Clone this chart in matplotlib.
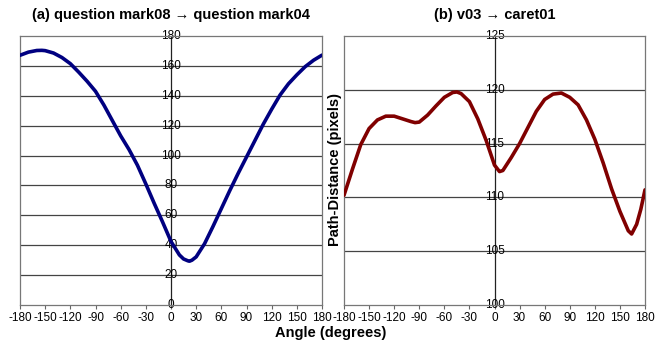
import matplotlib
matplotlib.use("Agg")
import matplotlib.pyplot as plt

plt.rcParams['font.family'] = ['Liberation Sans', 'DejaVu Sans']
plt.rcParams['axes.unicode_minus'] = False

# panel (a): question mark08 -> question mark04
angle_a = [-180, -170, -160, -154, -150, -140, -130, -120, -110, -100, -90, -80, -70,
           -60, -50, -40, -30, -20, -10, 0, 10, 15, 20, 22, 25, 30, 40, 50, 60, 70, 80,
           90, 100, 110, 120, 130, 140, 150, 160, 170, 180]
dist_a = [167.1, 169.2, 170.3, 170.4, 170.2, 168.6, 165.6, 161.5, 155.8, 149.7, 143.0,
          133.8, 123.5, 113.2, 104.0, 93.5, 81.0, 68.0, 55.5, 42.5, 33.5, 30.8, 29.6,
          29.3, 30.0, 32.2, 41.0, 52.5, 64.5, 76.5, 88.0, 99.0, 110.0, 121.0, 131.0,
          140.5, 148.0, 154.0, 159.5, 163.8, 167.2]

# panel (b): v03 -> caret01
angle_b = [-180, -170, -160, -150, -140, -130, -120, -110, -100, -95, -90, -80, -70,
           -60, -50, -45, -40, -30, -20, -10, 0, 6, 10, 20, 30, 40, 50, 60, 70, 80, 90,
           100, 110, 120, 130, 140, 150, 160, 164, 170, 175, 180]
dist_b = [110.2, 112.6, 114.9, 116.4, 117.2, 117.55, 117.55, 117.3, 117.05, 116.95,
          117.0, 117.65, 118.5, 119.3, 119.75, 119.8, 119.65, 118.9, 117.3, 115.3,
          113.0, 112.4, 112.5, 113.7, 115.0, 116.5, 118.0, 119.1, 119.6, 119.7, 119.3,
          118.6, 117.2, 115.4, 113.2, 110.8, 108.7, 106.9, 106.6, 107.5, 108.9, 110.7]

x_ticks = list(range(-180, 181, 30))
y_ticks_a = list(range(0, 181, 20))
y_ticks_b = list(range(100, 126, 5))

W, H = 662, 341
fig = plt.figure(figsize=(W / 100, H / 100), dpi=100)


def panel(rect, xs, ys, yticks, colour, title):
    ax = fig.add_axes(rect)
    ax.set_xlim(-180, 180)
    ax.set_ylim(yticks[0], yticks[-1])
    for v in yticks[1:-1]:
        ax.axhline(v, color='#444444', lw=0.9, zorder=1)
    ax.axvline(0, color='#222222', lw=0.9, zorder=1)
    ax.plot(xs, ys, color=colour, lw=2.6, solid_joinstyle='round',
            solid_capstyle='round', zorder=3)
    for v in yticks:
        ax.text(0, v, str(v), ha='center', va='center', fontsize=8.5, zorder=2)
    ax.set_xticks(x_ticks)
    ax.set_yticks([])
    ax.tick_params(axis='x', direction='out', length=3, width=0.8, color='#666666',
                   labelsize=8.5, pad=2)
    for s in ax.spines.values():
        s.set_color('#777777')
        s.set_linewidth(0.9)
    ax.set_title(title, fontsize=10.5, fontweight='bold', pad=12)
    return ax


panel([20 / W, 36 / H, 302 / W, 269 / H], angle_a, dist_a, y_ticks_a, '#000080',
      '(a) question mark08 \u2192 question mark04')
panel([344 / W, 36 / H, 301 / W, 269 / H], angle_b, dist_b, y_ticks_b, '#800000',
      '(b) v03 \u2192 caret01')

fig.text(335 / W, 1 - 170 / H, 'Path-Distance (pixels)', rotation=90, ha='center',
         va='center', fontsize=10.5, fontweight='bold')
fig.text(331 / W, 1 - 333 / H, 'Angle (degrees)', ha='center', va='center',
         fontsize=10.5, fontweight='bold')

fig.savefig('out.png', dpi=100)
